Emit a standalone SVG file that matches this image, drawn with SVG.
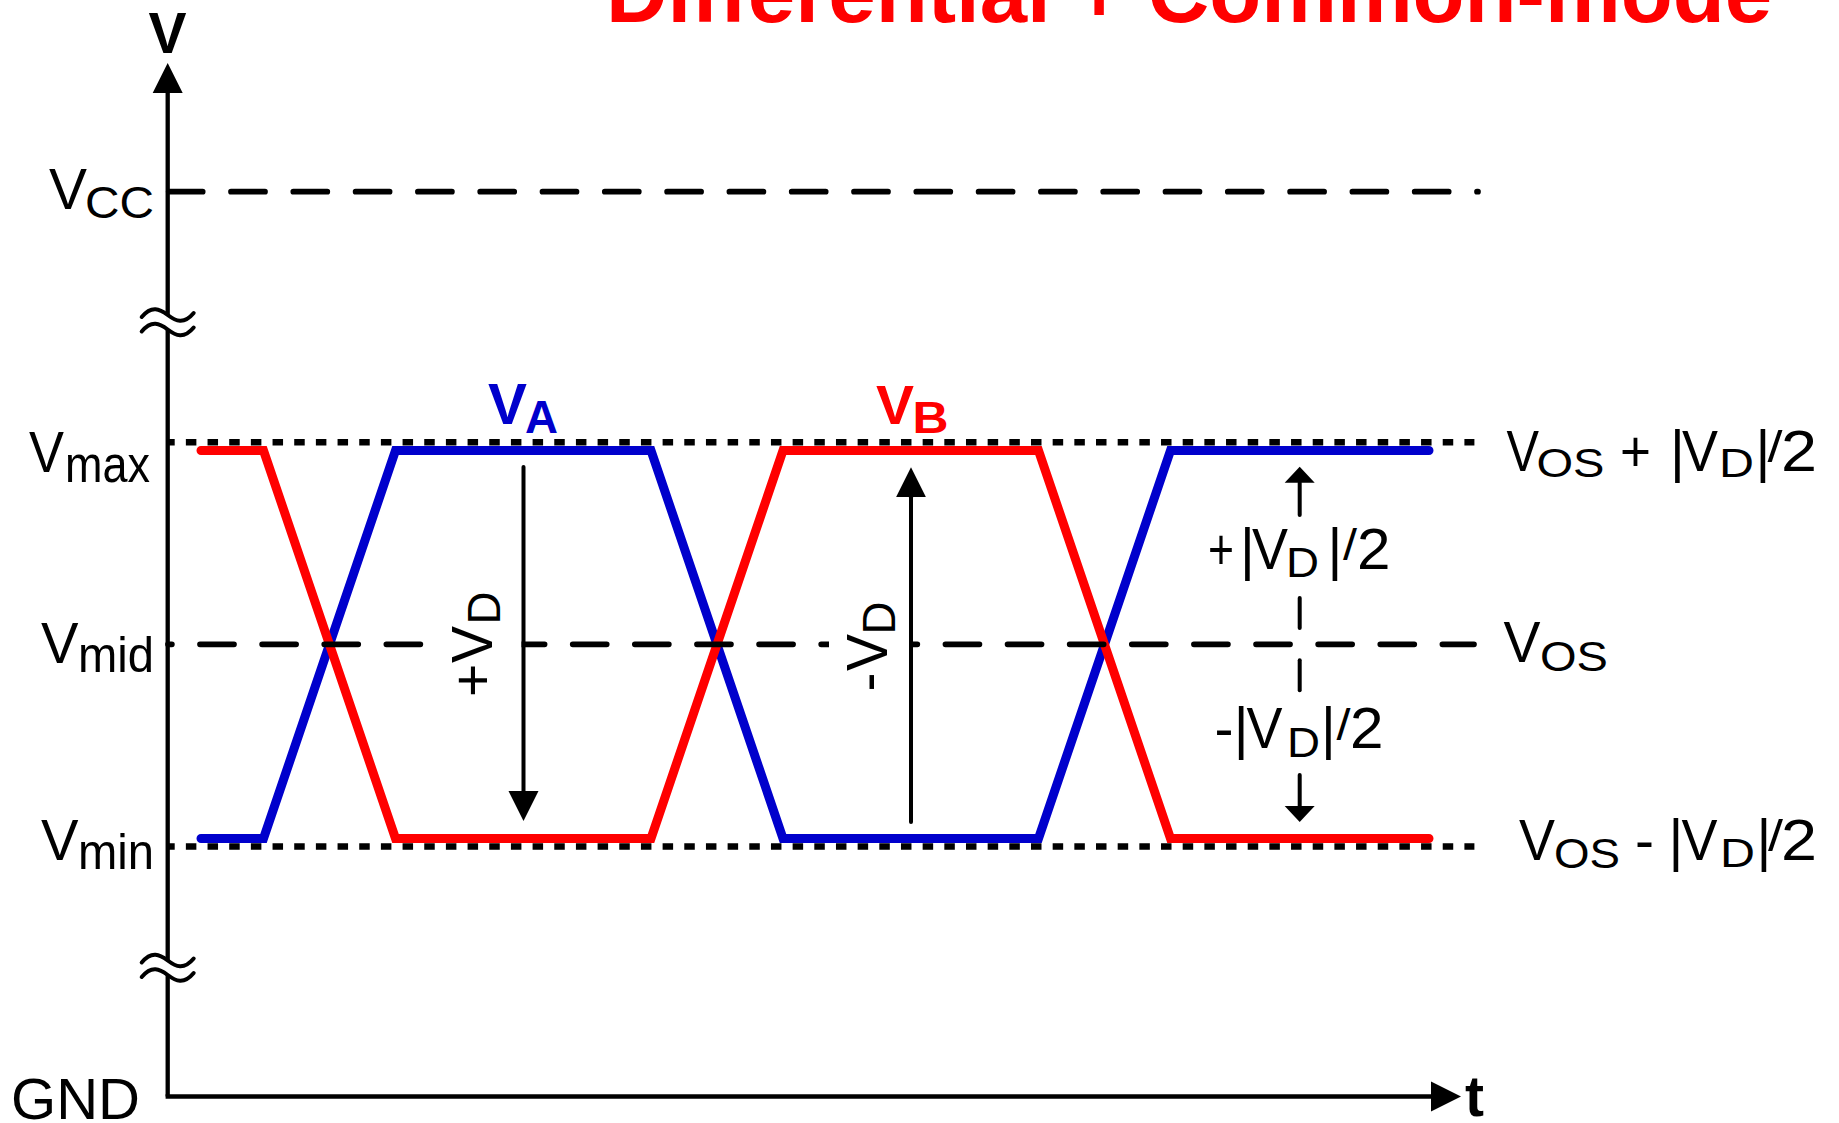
<svg xmlns="http://www.w3.org/2000/svg" width="1839" height="1123" viewBox="0 0 1839 1123">
<defs>
<style>
text{font-family:"Liberation Sans",Arial,Helvetica,sans-serif;fill:#000}
.b{font-weight:bold}
.s57{font-size:57px}
.red{fill:#FF0000}
.blue{fill:#0000CC}
.ax{stroke:#000;stroke-width:4.3;fill:none}
.arr{stroke:#000;stroke-width:4;fill:none;stroke-linecap:round}
.dash{stroke:#000;stroke-width:5.7;fill:none;stroke-linecap:round}
.dot{stroke:#000;stroke-width:6.5;fill:none;stroke-dasharray:10.5 11.17;stroke-dashoffset:3.8}
.wave{stroke-width:9;fill:none;stroke-linecap:round;stroke-linejoin:miter}
.brk{stroke:#000;stroke-width:4;fill:none;stroke-linecap:round}
</style>
<marker id="ah" markerUnits="userSpaceOnUse" viewBox="0 -16 32 32" markerWidth="32" markerHeight="32" refX="0" refY="0" orient="auto"><path d="M0,-15 L30,0 L0,15 z" fill="#000"/></marker>
<marker id="ahs" markerUnits="userSpaceOnUse" viewBox="0 -16 18 32" markerWidth="18" markerHeight="32" refX="0" refY="0" orient="auto"><path d="M0,-15 L16,0 L0,15 z" fill="#000"/></marker>
<path id="tl" d="M-26,2 C-16,-10 -8,-6 0,0 S16,10 26,-2"/>
</defs>
<rect width="1839" height="1123" fill="#fff"/>

<g id="title"><text class="b red" x="606" y="22" font-size="85" textLength="1166" lengthAdjust="spacingAndGlyphs">Differential + Common-mode</text></g>

<g id="levels">
<path class="dash" d="M168.7,191.7 H1478" stroke-dasharray="34 28.3"/>
<path class="dot" d="M168,442.2 H1474.4"/>
<path class="dot" d="M168,846.5 H1474.4"/>
</g>

<g id="waveforms">
<path id="wave-A" class="wave" stroke="#0000CC" d="M201,838.5 H263.5 L395.5,450.5 H651 L783,838.5 H1038.5 L1170.5,450.5 H1429"/>
<path id="wave-B" class="wave" stroke="#FF0000" d="M201,450.5 H263.5 L395.5,838.5 H651 L783,450.5 H1038.5 L1170.5,838.5 H1429"/>
</g>

<g id="mid-level"><path class="dash" d="M168,644.3 H1474" stroke-dasharray="34 28.12" stroke-dashoffset="30.12"/></g>

<g id="label-backgrounds" fill="#fff">
<rect x="438" y="588" width="83.5" height="112"/>
<rect x="829" y="588" width="81.5" height="112"/>
</g>

<g id="axes">
<path class="ax" d="M167.7,1096.5 V93" marker-end="url(#ah)"/>
<path class="ax" d="M165.6,1096.5 H1431" marker-end="url(#ah)"/>
<g id="break-top" transform="translate(167.7,315)">
<path d="M-26,2 C-16,-10 -8,-6 0,0 S16,10 26,-2 L26,12.5 C16,24.5 8,20.5 0,14.5 S-16,4.5 -26,16.5 z" fill="#fff"/>
<use href="#tl" class="brk"/>
<use href="#tl" class="brk" y="14.5"/>
</g>
<g id="break-bottom" transform="translate(167.7,960.5)">
<path d="M-26,2 C-16,-10 -8,-6 0,0 S16,10 26,-2 L26,12.5 C16,24.5 8,20.5 0,14.5 S-16,4.5 -26,16.5 z" fill="#fff"/>
<use href="#tl" class="brk"/>
<use href="#tl" class="brk" y="14.5"/>
</g>
</g>

<g id="connectors">
<path class="arr" d="M523.5,467 V791" marker-end="url(#ah)"/>
<path class="arr" d="M911,822 V497.3" marker-end="url(#ah)"/>
<path class="arr" d="M1299.7,515 V482.7" marker-end="url(#ahs)"/>
<path class="arr" d="M1299.7,598 V628"/>
<path class="arr" d="M1299.7,660.3 V690.3"/>
<path class="arr" d="M1299.7,775 V806" marker-end="url(#ahs)"/>
</g>

<g id="axis-labels">
<text class="b s57" x="167.5" y="53" text-anchor="middle">V</text>
<text class="b s57" x="1465" y="1116">t</text>
<text class="s57" x="11" y="1119" textLength="129" lengthAdjust="spacingAndGlyphs">GND</text>
</g>

<g id="label-vcc">
<text class="s57" x="49" y="209" textLength="38" lengthAdjust="spacingAndGlyphs">V</text>
<text x="85" y="218" font-size="45" textLength="69" lengthAdjust="spacingAndGlyphs">CC</text>
</g>
<g id="label-vmax">
<text class="s57" x="29" y="471.5" textLength="35" lengthAdjust="spacingAndGlyphs">V</text>
<text x="65" y="481.5" font-size="52" textLength="85" lengthAdjust="spacingAndGlyphs">max</text>
</g>
<g id="label-vmid">
<text class="s57" x="41" y="662.5" textLength="37.5" lengthAdjust="spacingAndGlyphs">V</text>
<text x="78" y="671.5" font-size="50" textLength="76" lengthAdjust="spacingAndGlyphs">mid</text>
</g>
<g id="label-vmin">
<text class="s57" x="41" y="859.5" textLength="37.5" lengthAdjust="spacingAndGlyphs">V</text>
<text x="78" y="869" font-size="50" textLength="76" lengthAdjust="spacingAndGlyphs">min</text>
</g>

<g id="label-va">
<text class="b blue s57" x="488" y="424" textLength="39" lengthAdjust="spacingAndGlyphs">V</text>
<text class="b blue" x="525" y="432.5" font-size="47" textLength="33" lengthAdjust="spacingAndGlyphs">A</text>
</g>
<g id="label-vb">
<text class="b red" x="876" y="423.5" font-size="56" textLength="38" lengthAdjust="spacingAndGlyphs">V</text>
<text class="b red" x="912.5" y="432.5" font-size="44" textLength="36" lengthAdjust="spacingAndGlyphs">B</text>
</g>

<g id="label-plus-vd" transform="translate(492,695) rotate(-90)">
<text class="s57" x="-2" y="0">+</text>
<text class="s57" x="32" y="0" textLength="37" lengthAdjust="spacingAndGlyphs">V</text>
<text x="70.5" y="7.5" font-size="46" textLength="33" lengthAdjust="spacingAndGlyphs">D</text>
</g>
<g id="label-minus-vd" transform="translate(886.5,691.6) rotate(-90)">
<text class="s57" x="0" y="0">-</text>
<text class="s57" x="20.5" y="0" textLength="37" lengthAdjust="spacingAndGlyphs">V</text>
<text x="57" y="8.5" font-size="46" textLength="33" lengthAdjust="spacingAndGlyphs">D</text>
</g>

<g id="label-vos-plus">
<text class="s57" x="1506.5" y="471" textLength="32.5" lengthAdjust="spacingAndGlyphs">V</text>
<text x="1536.5" y="477" font-size="40" textLength="68" lengthAdjust="spacingAndGlyphs">OS</text>
<text class="s57" x="1620" y="471" textLength="31" lengthAdjust="spacingAndGlyphs">+</text>
<text class="s57" x="1670" y="471">|</text>
<text class="s57" x="1682" y="471" textLength="36" lengthAdjust="spacingAndGlyphs">V</text>
<text x="1719" y="477" font-size="41" textLength="35" lengthAdjust="spacingAndGlyphs">D</text>
<text class="s57" x="1755.5" y="471">|</text>
<text x="1767.5" y="462" font-size="44" textLength="15" lengthAdjust="spacingAndGlyphs">/</text>
<text class="s57" x="1781" y="471" textLength="36" lengthAdjust="spacingAndGlyphs">2</text>
</g>
<g id="label-vos">
<text class="s57" x="1503.5" y="662" textLength="37" lengthAdjust="spacingAndGlyphs">V</text>
<text x="1540" y="670.5" font-size="42" textLength="68" lengthAdjust="spacingAndGlyphs">OS</text>
</g>
<g id="label-vos-minus">
<text class="s57" x="1519" y="859.5" textLength="36" lengthAdjust="spacingAndGlyphs">V</text>
<text x="1554" y="867.5" font-size="42" textLength="66" lengthAdjust="spacingAndGlyphs">OS</text>
<text class="s57" x="1635" y="859.5">-</text>
<text class="s57" x="1668.5" y="859.5">|</text>
<text class="s57" x="1681.5" y="859.5" textLength="36" lengthAdjust="spacingAndGlyphs">V</text>
<text x="1720" y="867" font-size="41" textLength="35" lengthAdjust="spacingAndGlyphs">D</text>
<text class="s57" x="1756.5" y="859.5">|</text>
<text x="1768" y="851" font-size="44" textLength="15" lengthAdjust="spacingAndGlyphs">/</text>
<text class="s57" x="1781" y="859.5" textLength="36" lengthAdjust="spacingAndGlyphs">2</text>
</g>

<g id="label-half-plus">
<text class="s57" x="1208" y="569.3" textLength="26" lengthAdjust="spacingAndGlyphs">+</text>
<text class="s57" x="1240" y="569.3">|</text>
<text class="s57" x="1252" y="569.3" textLength="36" lengthAdjust="spacingAndGlyphs">V</text>
<text x="1286" y="577.3" font-size="42" textLength="33" lengthAdjust="spacingAndGlyphs">D</text>
<text class="s57" x="1327.5" y="569.3">|</text>
<text x="1343" y="560" font-size="44" textLength="14" lengthAdjust="spacingAndGlyphs">/</text>
<text class="s57" x="1357" y="569.3" textLength="33.5" lengthAdjust="spacingAndGlyphs">2</text>
</g>
<g id="label-half-minus">
<text class="s57" x="1214.5" y="748.3">-</text>
<text class="s57" x="1233.7" y="748.3">|</text>
<text class="s57" x="1246.5" y="748.3" textLength="36" lengthAdjust="spacingAndGlyphs">V</text>
<text x="1287" y="756.5" font-size="42" textLength="33" lengthAdjust="spacingAndGlyphs">D</text>
<text class="s57" x="1321" y="748.3">|</text>
<text x="1336.5" y="740" font-size="44" textLength="14" lengthAdjust="spacingAndGlyphs">/</text>
<text class="s57" x="1350" y="748.3" textLength="33.5" lengthAdjust="spacingAndGlyphs">2</text>
</g>
</svg>
